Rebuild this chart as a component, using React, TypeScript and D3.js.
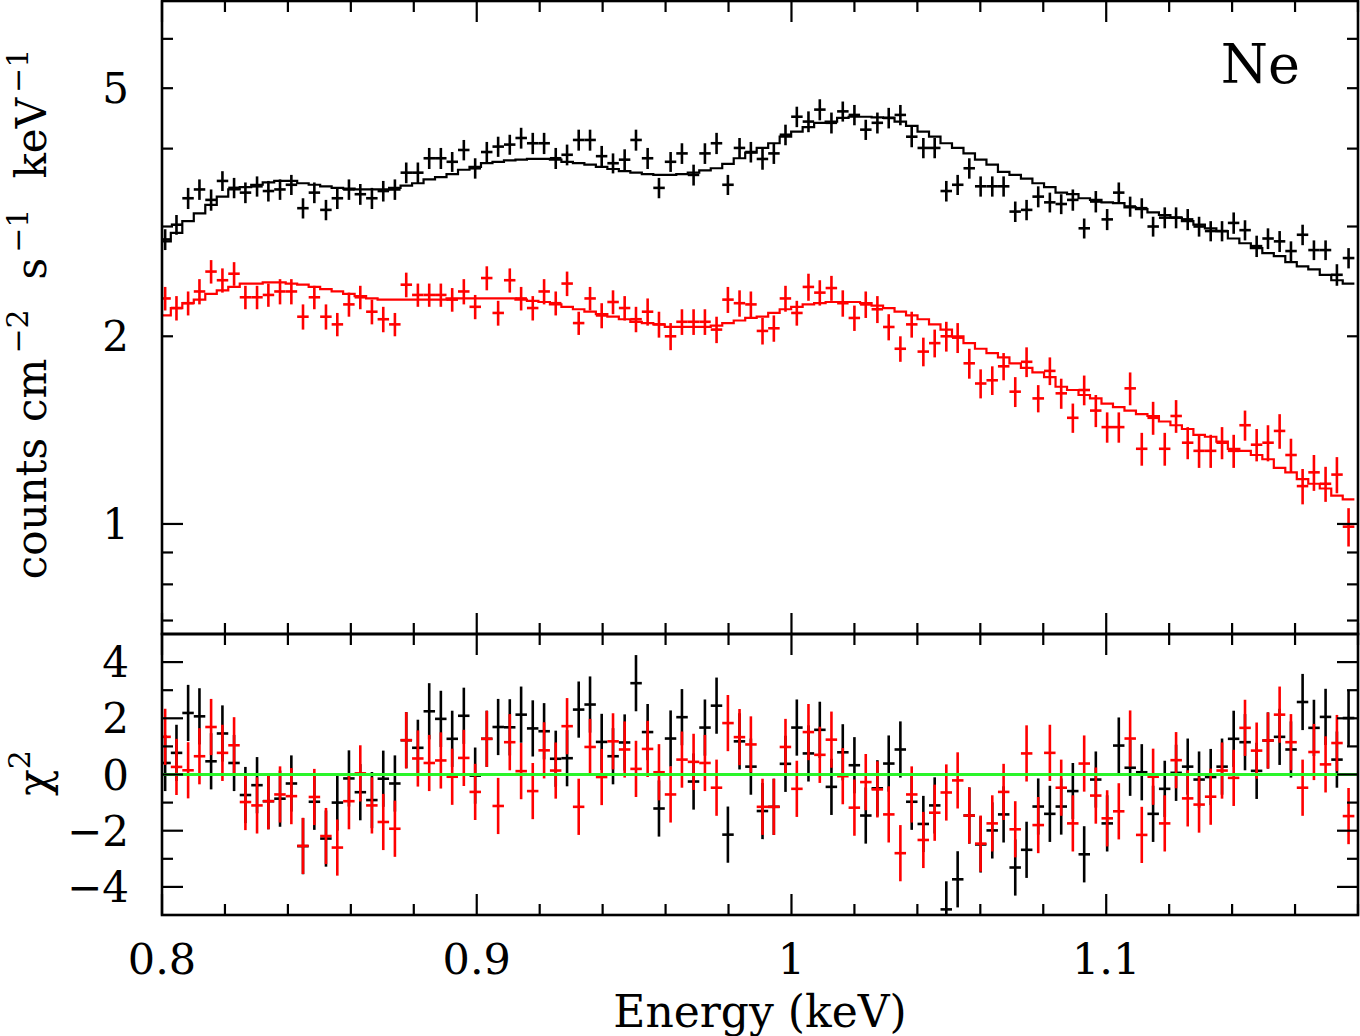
import React from "react";
import * as d3 from "d3";

// Bin centres (keV)
const energy = [
  0.8010, 0.8046, 0.8083, 0.8119, 0.8156, 0.8192, 0.8229, 0.8265, 0.8302, 0.8338,
  0.8375, 0.8411, 0.8448, 0.8484, 0.8521, 0.8557, 0.8594, 0.8630, 0.8667, 0.8703,
  0.8740, 0.8776, 0.8813, 0.8849, 0.8886, 0.8922, 0.8959, 0.8995, 0.9032, 0.9068,
  0.9105, 0.9141, 0.9178, 0.9214, 0.9251, 0.9287, 0.9324, 0.9360, 0.9397, 0.9433,
  0.9470, 0.9506, 0.9543, 0.9579, 0.9616, 0.9652, 0.9689, 0.9725, 0.9762, 0.9798,
  0.9835, 0.9871, 0.9908, 0.9944, 0.9981, 1.0017, 1.0054, 1.0090, 1.0127, 1.0163,
  1.0200, 1.0236, 1.0273, 1.0309, 1.0346, 1.0382, 1.0419, 1.0455, 1.0492, 1.0528,
  1.0565, 1.0601, 1.0638, 1.0674, 1.0711, 1.0747, 1.0784, 1.0821, 1.0857, 1.0894,
  1.0930, 1.0967, 1.1003, 1.1040, 1.1076, 1.1113, 1.1149, 1.1186, 1.1222, 1.1259,
  1.1295, 1.1332, 1.1368, 1.1405, 1.1441, 1.1478, 1.1514, 1.1551, 1.1587, 1.1624,
  1.1660, 1.1697, 1.1733, 1.1770,
];

const blackData = [
  2.86, 3.02, 3.33, 3.44, 3.31, 3.55, 3.46, 3.40, 3.48, 3.42,
  3.44, 3.50, 3.21, 3.40, 3.19, 3.33, 3.44, 3.38, 3.33, 3.42,
  3.44, 3.66, 3.66, 3.86, 3.86, 3.81, 3.98, 3.72, 3.95, 4.03,
  4.06, 4.16, 4.08, 4.08, 3.86, 3.91, 4.13, 4.13, 3.89, 3.79,
  3.84, 4.13, 3.86, 3.46, 3.81, 3.93, 3.63, 3.93, 4.08, 3.50,
  4.01, 3.95, 3.85, 3.93, 4.21, 4.50, 4.42, 4.62, 4.40, 4.59,
  4.53, 4.29, 4.40, 4.48, 4.53, 4.18, 4.01, 4.01, 3.42, 3.50,
  3.72, 3.48, 3.48, 3.48, 3.17, 3.19, 3.35, 3.28, 3.26, 3.31,
  2.98, 3.29, 3.08, 3.40, 3.23, 3.21, 3.00, 3.10, 3.10, 3.08,
  3.00, 2.95, 2.95, 3.04, 2.96, 2.79, 2.87, 2.84, 2.74, 2.91,
  2.75, 2.75, 2.51, 2.67,
];

const blackErr = [
  0.11, 0.11, 0.13, 0.13, 0.13, 0.13, 0.13, 0.13, 0.13, 0.13,
  0.13, 0.13, 0.12, 0.13, 0.12, 0.13, 0.13, 0.13, 0.13, 0.13,
  0.13, 0.14, 0.14, 0.15, 0.15, 0.14, 0.15, 0.14, 0.15, 0.15,
  0.15, 0.16, 0.16, 0.16, 0.15, 0.15, 0.16, 0.16, 0.15, 0.14,
  0.15, 0.16, 0.15, 0.13, 0.14, 0.15, 0.14, 0.15, 0.16, 0.13,
  0.15, 0.15, 0.15, 0.15, 0.16, 0.17, 0.17, 0.18, 0.17, 0.17,
  0.17, 0.16, 0.17, 0.17, 0.17, 0.16, 0.15, 0.15, 0.13, 0.13,
  0.14, 0.13, 0.13, 0.13, 0.12, 0.12, 0.13, 0.12, 0.12, 0.13,
  0.11, 0.13, 0.12, 0.13, 0.12, 0.12, 0.11, 0.12, 0.12, 0.12,
  0.11, 0.11, 0.11, 0.12, 0.11, 0.11, 0.11, 0.11, 0.10, 0.11,
  0.10, 0.10, 0.10, 0.10,
];

const blackModel = [
  2.84, 2.93, 3.06, 3.15, 3.25, 3.35, 3.44, 3.47, 3.50, 3.53,
  3.55, 3.55, 3.52, 3.50, 3.48, 3.46, 3.45, 3.44, 3.44, 3.44,
  3.46, 3.49, 3.52, 3.57, 3.60, 3.64, 3.70, 3.74, 3.79, 3.81,
  3.83, 3.84, 3.85, 3.85, 3.84, 3.81, 3.79, 3.77, 3.74, 3.71,
  3.68, 3.66, 3.64, 3.63, 3.63, 3.64, 3.66, 3.69, 3.72, 3.78,
  3.86, 3.94, 4.01, 4.08, 4.18, 4.26, 4.33, 4.40, 4.42, 4.48,
  4.50, 4.50, 4.49, 4.48, 4.42, 4.35, 4.26, 4.18, 4.08, 4.01,
  3.93, 3.84, 3.77, 3.67, 3.63, 3.58, 3.52, 3.47, 3.40, 3.38,
  3.33, 3.31, 3.28, 3.27, 3.22, 3.20, 3.16, 3.13, 3.10, 3.06,
  3.02, 2.98, 2.95, 2.87, 2.82, 2.77, 2.72, 2.69, 2.63, 2.59,
  2.56, 2.51, 2.46, 2.43,
];

const redData = [
  2.30, 2.22, 2.26, 2.36, 2.54, 2.46, 2.52, 2.31, 2.31, 2.33,
  2.36, 2.36, 2.15, 2.31, 2.15, 2.09, 2.25, 2.31, 2.19, 2.13,
  2.09, 2.42, 2.33, 2.33, 2.33, 2.29, 2.36, 2.23, 2.48, 2.18,
  2.46, 2.30, 2.22, 2.36, 2.26, 2.43, 2.10, 2.30, 2.16, 2.27,
  2.22, 2.13, 2.19, 2.09, 2.00, 2.11, 2.11, 2.11, 2.05, 2.29,
  2.26, 2.25, 2.04, 2.06, 2.30, 2.18, 2.40, 2.35, 2.39, 2.26,
  2.14, 2.25, 2.21, 2.07, 1.91, 2.09, 1.89, 1.95, 2.00, 1.99,
  1.81, 1.68, 1.70, 1.79, 1.63, 1.82, 1.59, 1.76, 1.62, 1.48,
  1.64, 1.52, 1.43, 1.43, 1.65, 1.32, 1.48, 1.32, 1.49, 1.35,
  1.31, 1.31, 1.35, 1.31, 1.44, 1.34, 1.35, 1.41, 1.29, 1.15,
  1.21, 1.16, 1.20, 0.99,
];

const redErr = [
  0.10, 0.10, 0.10, 0.11, 0.11, 0.11, 0.11, 0.10, 0.10, 0.10,
  0.11, 0.11, 0.10, 0.10, 0.10, 0.09, 0.10, 0.10, 0.10, 0.10,
  0.09, 0.11, 0.10, 0.10, 0.10, 0.10, 0.11, 0.10, 0.11, 0.10,
  0.11, 0.10, 0.10, 0.11, 0.10, 0.11, 0.09, 0.10, 0.10, 0.10,
  0.10, 0.10, 0.11, 0.10, 0.10, 0.10, 0.10, 0.10, 0.10, 0.11,
  0.11, 0.11, 0.10, 0.10, 0.11, 0.10, 0.12, 0.11, 0.11, 0.11,
  0.10, 0.11, 0.11, 0.10, 0.09, 0.10, 0.10, 0.10, 0.11, 0.11,
  0.10, 0.09, 0.09, 0.09, 0.09, 0.10, 0.08, 0.09, 0.09, 0.08,
  0.09, 0.09, 0.08, 0.08, 0.10, 0.08, 0.09, 0.08, 0.09, 0.08,
  0.08, 0.08, 0.08, 0.08, 0.08, 0.08, 0.09, 0.09, 0.08, 0.075,
  0.08, 0.075, 0.08, 0.07,
];

const redModel = [
  2.16, 2.22, 2.26, 2.29, 2.34, 2.37, 2.40, 2.43, 2.43, 2.44,
  2.44, 2.43, 2.42, 2.40, 2.38, 2.36, 2.34, 2.32, 2.30, 2.29,
  2.29, 2.29, 2.29, 2.29, 2.29, 2.30, 2.30, 2.30, 2.30, 2.30,
  2.30, 2.29, 2.28, 2.27, 2.25, 2.23, 2.21, 2.19, 2.17, 2.15,
  2.13, 2.11, 2.10, 2.09, 2.07, 2.07, 2.07, 2.07, 2.08, 2.10,
  2.12, 2.14, 2.15, 2.18, 2.21, 2.23, 2.25, 2.26, 2.27, 2.27,
  2.27, 2.26, 2.24, 2.22, 2.19, 2.16, 2.13, 2.09, 2.05, 2.00,
  1.95, 1.91, 1.88, 1.85, 1.81, 1.78, 1.75, 1.72, 1.66, 1.64,
  1.61, 1.59, 1.56, 1.54, 1.52, 1.50, 1.49, 1.46, 1.44, 1.42,
  1.39, 1.38, 1.355, 1.32, 1.31, 1.29, 1.27, 1.23, 1.21, 1.18,
  1.16, 1.14, 1.11, 1.095,
];

const blackChi = [
  0.41, 0.77, 2.19, 2.07, 0.47, 1.46, 0.41, -0.73, -0.38, -0.95,
  -0.86, -0.32, -2.55, -0.97, -2.28, -1.0, -0.14, -0.63, -0.91, -0.15,
  -0.32, 1.22, 0.95, 2.25, 1.98, 1.27, 2.09, -0.04, 1.27, 1.69,
  1.68, 2.13, 1.64, 1.54, 0.56, 0.58, 2.31, 2.49, 1.16, 0.65,
  1.14, 3.25, 1.51, -1.21, 1.28, 2.04, -0.25, 1.67, 2.45, -2.14,
  1.18, 0.28, -1.3, -1.15, 0.38, 1.67, 0.75, 1.59, -0.44, 0.79,
  0.33, -1.46, -0.49, 0.39, 0.89, -0.97, -1.76, -1.1, -4.8, -3.73,
  -1.46, -2.49, -1.99, -1.42, -3.31, -2.68, -1.14, -1.4, -1.14, -0.59,
  -2.84, -0.18, -1.74, 1.03, 0.24, 0.08, -1.4, -0.51, 0.06, 0.28,
  -0.18, -0.09, 0.28, 1.27, 1.15, 0.13, 1.21, 1.34, 0.89, 2.58,
  1.66, 2.05, 0.53, 2.01,
];

const redChi = [
  1.34, 0.27, 0.15, 0.65, 1.69, 0.77, 1.04, -0.98, -1.1, -0.95,
  -0.71, -0.77, -2.54, -0.8, -2.19, -2.6, -0.95, 0.04, -1.1, -1.69,
  -1.93, 1.22, 0.57, 0.41, 0.5, -0.08, 0.59, -0.62, 1.27, -1.12,
  1.15, 0.12, -0.59, 0.86, 0.14, 1.72, -1.15, 0.98, -0.09, 1.18,
  0.89, 0.2, 0.91, 0.08, -0.71, 0.53, 0.45, 0.41, -0.47, 1.83,
  1.33, 1.07, -1.15, -1.15, 0.98, -0.51, 1.51, 0.7, 1.24, -0.06,
  -1.18, -0.27, -0.53, -1.42, -2.8, -0.71, -2.33, -1.36, -0.64, -0.21,
  -1.46, -2.46, -1.74, -0.62, -1.95, 0.75, -1.8, 0.77, -0.47, -1.74,
  0.39, -0.75, -1.56, -1.31, 1.28, -2.15, -0.08, -1.74, 0.51, -0.85,
  -1.07, -0.79, 0.14, -0.12, 1.66, 0.85, 1.21, 2.13, 1.15, -0.47,
  0.8, 0.36, 1.12, -1.48,
];

const xTickLabels = [
  { v: 0.8, t: "0.8" },
  { v: 0.9, t: "0.9" },
  { v: 1.0, t: "1" },
  { v: 1.1, t: "1.1" },
];
const topMinorTicks = [0.7, 0.8, 0.9, 2, 3, 4, 5, 6];
const topMajorTicks = [1];
const topTickLabels = [
  { v: 1, t: "1" },
  { v: 2, t: "2" },
  { v: 5, t: "5" },
];
const chiTicks = [-4, -3, -2, -1, 0, 1, 2, 3, 4];
const chiTickLabels = [
  { v: 4, t: "4" },
  { v: 2, t: "2" },
  { v: 0, t: "0" },
  { v: -2, t: "\u22122" },
  { v: -4, t: "\u22124" },
];

const FONT = "'DejaVu Serif', 'Liberation Serif', serif";
const L = 162;
const R = 1358;
const T = 1;
const MID = 634;
const B = 915;
const GREEN = "#2af52a";

export default function App() {
  const x = d3.scaleLinear().domain([0.8, 1.18]).range([L, R]);
  const yTop = d3.scaleLog().domain([0.666, 6.9]).range([MID, T]);
  const yBot = d3.scaleLinear().domain([-5, 5]).range([B, MID]);

  const n = energy.length;
  const edges: number[] = [];
  edges.push(energy[0] - (energy[1] - energy[0]) / 2);
  for (let i = 1; i < n; i++) edges.push((energy[i - 1] + energy[i]) / 2);
  edges.push(energy[n - 1] + (energy[n - 1] - energy[n - 2]) / 2);

  const stepLine = d3
    .line<[number, number]>()
    .x((d) => x(d[0]))
    .curve(d3.curveStepAfter);

  const modelPath = (model: number[]) => {
    const pts: [number, number][] = model.map((m, i) => [edges[i], m]);
    pts.push([edges[n], model[n - 1]]);
    return stepLine.y((d) => yTop(d[1]))(pts) || "";
  };

  const crosses = (
    data: number[],
    err: number[],
    color: string,
    scaleY: (v: number) => number,
    key: string
  ) =>
    data.map((d, i) => (
      <g key={key + i} stroke={color} strokeWidth={2.6}>
        <line x1={x(edges[i])} x2={x(edges[i + 1])} y1={scaleY(d)} y2={scaleY(d)} />
        <line
          x1={x(energy[i])}
          x2={x(energy[i])}
          y1={scaleY(d - err[i])}
          y2={scaleY(d + err[i])}
        />
      </g>
    ));

  const ones = energy.map(() => 1);
  const xMinor = x.ticks(20);

  const xTickMarks = (yEdge: number, dir: number, k: string) =>
    xMinor.map((t, i) => {
      const isMajor = Math.abs(t * 10 - Math.round(t * 10)) < 1e-6;
      const len = isMajor ? 21 : 11;
      return (
        <line
          key={k + i}
          x1={x(t)}
          x2={x(t)}
          y1={yEdge}
          y2={yEdge + dir * len}
          stroke="#000"
          strokeWidth={2.2}
        />
      );
    });

  const yTickMarks = (vals: number[], scale: (v: number) => number, len: number, k: string) =>
    vals.map((v, i) => (
      <g key={k + i} stroke="#000" strokeWidth={2.2}>
        <line x1={L} x2={L + len} y1={scale(v)} y2={scale(v)} />
        <line x1={R} x2={R - len} y1={scale(v)} y2={scale(v)} />
      </g>
    ));

  return (
    <svg
      width={1360}
      height={1036}
      viewBox="0 0 1360 1036"
      style={{ position: "absolute", left: 0, top: 0, background: "#fff" }}
      fontFamily={FONT}
    >
      <defs>
        <clipPath id="clipTop">
          <rect x={L} y={T} width={R - L} height={MID - T} />
        </clipPath>
        <clipPath id="clipBot">
          <rect x={L} y={MID} width={R - L} height={B - MID} />
        </clipPath>
      </defs>
      <rect x={0} y={0} width={1360} height={1036} fill="#fff" />

      {/* Top panel */}
      <g clipPath="url(#clipTop)">
        {crosses(blackData, blackErr, "#000", yTop, "bd")}
        <path d={modelPath(blackModel)} fill="none" stroke="#000" strokeWidth={2.2} />
        {crosses(redData, redErr, "#ff0000", yTop, "rd")}
        <path d={modelPath(redModel)} fill="none" stroke="#ff0000" strokeWidth={2.2} />
      </g>

      {/* Bottom panel */}
      <g clipPath="url(#clipBot)">
        {crosses(blackChi, ones, "#000", yBot, "bc")}
        {crosses(redChi, ones, "#ff0000", yBot, "rc")}
        <line x1={L} x2={R} y1={yBot(0)} y2={yBot(0)} stroke={GREEN} strokeWidth={3} />
      </g>

      {/* Frames */}
      <rect x={L} y={T} width={R - L} height={MID - T} fill="none" stroke="#000" strokeWidth={2.6} />
      <rect x={L} y={MID} width={R - L} height={B - MID} fill="none" stroke="#000" strokeWidth={2.6} />

      {/* Ticks */}
      {xTickMarks(T, 1, "xt1")}
      {xTickMarks(MID, -1, "xt2")}
      {xTickMarks(MID, 1, "xt3")}
      {xTickMarks(B, -1, "xt4")}
      {yTickMarks(topMinorTicks, yTop, 11, "ytm")}
      {yTickMarks(topMajorTicks, yTop, 21, "ytM")}
      {yTickMarks(chiTicks.filter((v) => v % 2 !== 0), yBot, 11, "ycm")}
      {yTickMarks(chiTicks.filter((v) => v % 2 === 0), yBot, 21, "ycM")}

      {/* Tick labels */}
      {topTickLabels.map((d, i) => (
        <text key={"tl" + i} x={129} y={yTop(d.v) + 15} fontSize={42} textAnchor="end" fill="#000">
          {d.t}
        </text>
      ))}
      {chiTickLabels.map((d, i) => (
        <text key={"cl" + i} x={129} y={yBot(d.v) + 15} fontSize={42} textAnchor="end" fill="#000">
          {d.t}
        </text>
      ))}
      {xTickLabels.map((d, i) => (
        <text key={"xl" + i} x={x(d.v)} y={974} fontSize={43} textAnchor="middle" fill="#000">
          {d.t}
        </text>
      ))}

      {/* Axis titles */}
      <text x={760} y={1027} fontSize={44} textAnchor="middle" fill="#000">
        Energy (keV)
      </text>
      <text
        transform="translate(46,314) rotate(-90)"
        fontSize={42}
        textAnchor="middle"
        fill="#000"
      >
        counts
        <tspan dx={16}>cm</tspan>
        <tspan fontSize={30} dx={5} dy={-18}>{"\u22122"}</tspan>
        <tspan dy={18} dx={30}>s</tspan>
        <tspan fontSize={30} dx={5} dy={-18}>{"\u22121"}</tspan>
        <tspan dy={18} dx={30}>keV</tspan>
        <tspan fontSize={30} dx={5} dy={-18}>{"\u22121"}</tspan>
      </text>
      <text transform="translate(49,773) rotate(-90)" fontSize={44} textAnchor="middle" fill="#000">
        {"\u03C7"}
        <tspan fontSize={30} dy={-19}>2</tspan>
      </text>

      <text x={1300} y={83} fontSize={54} textAnchor="end" fill="#000">
        Ne
      </text>
    </svg>
  );
}
